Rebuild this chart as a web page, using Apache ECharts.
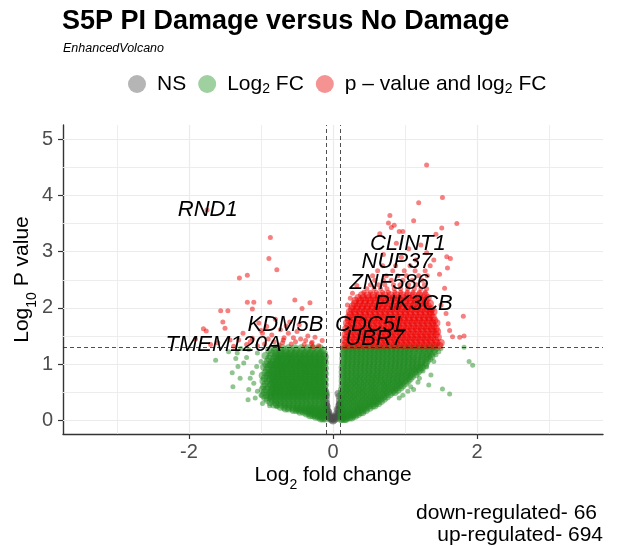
<!DOCTYPE html>
<html>
<head>
<meta charset="utf-8">
<script src="https://cdn.jsdelivr.net/npm/echarts@6/dist/echarts.min.js"></script>
<style>
  html, body { margin: 0; padding: 0; background: #fff; }
  #main { width: 618px; height: 546px; }
</style>
</head>
<body>
<div id="main"></div>
<script>
// ---- data ----
// points are [log2 fc, -log10 p]; rows are [-log10 p, [log2 fc, ...]]
var nsPoints = [
  [0,-0.01],[-0.02,0.01],[0.02,0.01],[-0.04,0.03],[0.04,0.03],[-0.01,0.04],[0.01,0.05],
  [-0.06,0.06],[0.06,0.06],[-0.03,0.07],[0.03,0.08],[-0.08,0.09],[0.08,0.09],[-0.05,0.11],
  [0.05,0.12],[-0.09,0.14],[0.09,0.14],[-0.07,0.17],[0.07,0.18],[-0.095,0.22],[0.095,0.22],
  [-0.08,0.25],[0.08,0.26],[-0.09,0.31],[0.09,0.30],[-0.095,0.37],[0.09,0.36],[-0.09,0.44],
  [0.085,0.43],[-0.095,0.49],[0.07,0.48],[-0.06,0.15],[0.06,0.20],[-0.02,0.03],[0.02,0.04],
  [-0.07,0.10],[0.07,0.11],[-0.085,0.20],[0.085,0.19],[-0.09,0.27],[0.09,0.28],[-0.04,0.06],[0.04,0.07]
];

var greenUpRows = [
  [0.02,[0.11,0.13,0.16,0.18]],
  [0.05,[0.12,0.15,0.19,0.23,0.26]],
  [0.08,[0.11,0.14,0.18,0.22,0.27,0.31]],
  [0.11,[0.12,0.17,0.21,0.26,0.30,0.35]],
  [0.14,[0.11,0.15,0.20,0.25,0.29,0.34,0.38,0.41]],
  [0.18,[0.13,0.18,0.23,0.28,0.33,0.37,0.42,0.46]],
  [0.22,[0.11,0.16,0.21,0.27,0.32,0.36,0.41,0.46,0.51]],
  [0.26,[0.13,0.19,0.24,0.30,0.35,0.40,0.45,0.50,0.55,0.58]],
  [0.30,[0.11,0.16,0.22,0.27,0.33,0.38,0.44,0.49,0.54,0.59,0.63]],
  [0.34,[0.14,0.19,0.25,0.30,0.36,0.41,0.47,0.52,0.57,0.62,0.67]],
  [0.38,[0.12,0.17,0.23,0.28,0.34,0.40,0.45,0.51,0.56,0.61,0.66,0.71]],
  [0.42,[0.14,0.20,0.26,0.31,0.37,0.43,0.48,0.54,0.59,0.64,0.70,0.75]],
  [0.46,[0.12,0.17,0.23,0.29,0.34,0.40,0.46,0.51,0.57,0.62,0.68,0.73,0.79]],
  [0.50,[0.14,0.20,0.25,0.31,0.37,0.42,0.48,0.54,0.59,0.65,0.71,0.76,0.82,0.86]],
  [0.54,[0.12,0.18,0.23,0.29,0.35,0.40,0.46,0.52,0.57,0.63,0.69,0.74,0.80,0.85,0.90]],
  [0.58,[0.15,0.20,0.26,0.32,0.38,0.43,0.49,0.55,0.60,0.66,0.72,0.77,0.83,0.88,0.94]],
  [0.62,[0.13,0.18,0.24,0.30,0.35,0.41,0.47,0.53,0.58,0.64,0.70,0.75,0.81,0.87,0.92,0.97]],
  [0.66,[0.15,0.21,0.27,0.32,0.38,0.44,0.50,0.55,0.61,0.67,0.73,0.78,0.84,0.90,0.95,1.01]],
  [0.70,[0.13,0.19,0.24,0.30,0.36,0.42,0.47,0.53,0.59,0.65,0.70,0.76,0.82,0.88,0.93,0.99,1.04]],
  [0.74,[0.15,0.21,0.27,0.33,0.38,0.44,0.50,0.56,0.61,0.67,0.73,0.79,0.84,0.90,0.96,1.02,1.07]],
  [0.78,[0.13,0.19,0.25,0.31,0.36,0.42,0.48,0.54,0.60,0.65,0.71,0.77,0.83,0.89,0.94,1.00,1.06,1.10]],
  [0.82,[0.15,0.21,0.27,0.33,0.39,0.45,0.51,0.56,0.62,0.68,0.74,0.80,0.86,0.92,0.97,1.03,1.09,1.15]],
  [0.86,[0.13,0.19,0.25,0.31,0.37,0.43,0.49,0.55,0.61,0.66,0.72,0.78,0.84,0.90,0.96,1.02,1.07,1.13,1.18]],
  [0.90,[0.15,0.21,0.27,0.33,0.39,0.45,0.51,0.57,0.63,0.69,0.75,0.81,0.87,0.93,0.99,1.05,1.11,1.16,1.21]],
  [0.94,[0.13,0.19,0.25,0.31,0.37,0.43,0.49,0.55,0.61,0.67,0.73,0.79,0.85,0.91,0.97,1.03,1.09,1.14,1.20,1.24]],
  [0.98,[0.15,0.21,0.27,0.33,0.39,0.45,0.51,0.57,0.63,0.69,0.75,0.81,0.87,0.93,0.99,1.05,1.11,1.17,1.23,1.28]],
  [1.02,[0.14,0.20,0.26,0.32,0.38,0.44,0.50,0.56,0.62,0.68,0.74,0.80,0.86,0.92,0.98,1.04,1.10,1.16,1.22,1.29]],
  [1.06,[0.16,0.22,0.28,0.34,0.40,0.46,0.52,0.58,0.64,0.70,0.76,0.82,0.88,0.94,1.00,1.06,1.12,1.18,1.24,1.31]],
  [1.10,[0.14,0.20,0.26,0.32,0.38,0.44,0.50,0.56,0.62,0.68,0.74,0.80,0.86,0.92,0.98,1.04,1.10,1.16,1.23,1.29,1.34]],
  [1.14,[0.16,0.22,0.28,0.34,0.40,0.46,0.52,0.58,0.64,0.70,0.76,0.82,0.88,0.94,1.00,1.06,1.12,1.19,1.25,1.32,1.37]],
  [1.18,[0.14,0.20,0.26,0.32,0.38,0.44,0.50,0.56,0.62,0.68,0.74,0.80,0.86,0.92,0.98,1.04,1.10,1.17,1.24,1.30,1.36]],
  [1.22,[0.16,0.22,0.28,0.34,0.40,0.46,0.52,0.58,0.64,0.70,0.76,0.82,0.88,0.94,1.00,1.06,1.13,1.20,1.27,1.34,1.40]],
  [1.26,[0.15,0.21,0.27,0.33,0.39,0.45,0.51,0.57,0.63,0.69,0.75,0.81,0.87,0.93,0.99,1.05,1.12,1.19,1.26,1.33,1.41]],
  [1.29,[0.17,0.24,0.31,0.38,0.45,0.52,0.59,0.66,0.73,0.80,0.87,0.94,1.01,1.08,1.15,1.22,1.29,1.36,1.43]]
];
var greenUpExtra = [
  [1.52,0.56],[1.62,0.47],[1.82,1.30],[1.89,1.05],[1.94,0.98],[1.20,0.75],[1.33,0.63],
  [1.43,1.17],[1.36,0.81],[1.08,0.60],[1.04,0.52],[1.25,0.88],[1.30,0.95],[1.40,1.05],
  [1.47,1.22],[1.18,0.68],[0.97,0.45],[0.92,0.40],[1.12,0.55],[1.50,1.28]
];

var greenDownRows = [
  [0.03,[-0.11,-0.14,-0.17]],
  [0.06,[-0.12,-0.16,-0.20,-0.24]],
  [0.09,[-0.11,-0.15,-0.19,-0.24,-0.28,-0.32]],
  [0.12,[-0.13,-0.18,-0.22,-0.27,-0.32,-0.37]],
  [0.15,[-0.11,-0.16,-0.21,-0.26,-0.31,-0.36,-0.41,-0.46]],
  [0.18,[-0.13,-0.18,-0.24,-0.29,-0.35,-0.40,-0.46,-0.51,-0.55]],
  [0.21,[-0.11,-0.16,-0.22,-0.28,-0.33,-0.39,-0.45,-0.50,-0.56,-0.62,-0.66]],
  [0.24,[-0.14,-0.20,-0.26,-0.32,-0.38,-0.44,-0.50,-0.56,-0.62,-0.68,-0.73]],
  [0.28,[-0.12,-0.18,-0.24,-0.30,-0.36,-0.42,-0.48,-0.54,-0.60,-0.66,-0.72,-0.78,-0.82]],
  [0.32,[-0.14,-0.20,-0.26,-0.32,-0.38,-0.44,-0.50,-0.56,-0.62,-0.68,-0.74,-0.80,-0.87]],
  [0.36,[-0.12,-0.18,-0.24,-0.30,-0.36,-0.42,-0.48,-0.54,-0.60,-0.66,-0.72,-0.78,-0.84,-0.91]],
  [0.40,[-0.14,-0.20,-0.26,-0.33,-0.39,-0.45,-0.51,-0.57,-0.63,-0.69,-0.75,-0.81,-0.87,-0.94]],
  [0.43,[-0.12,-0.18,-0.24,-0.30,-0.37,-0.43,-0.49,-0.55,-0.61,-0.67,-0.73,-0.80,-0.86]],
  [0.45,[-0.11,-0.17,-0.23,-0.29,-0.36,-0.42,-0.48,-0.54,-0.60,-0.66,-0.72,-0.79,-0.85,-0.92,-0.97]],
  [0.48,[-0.13,-0.19,-0.25,-0.31,-0.38,-0.44,-0.50,-0.56,-0.62,-0.69,-0.75,-0.81,-0.87]],
  [0.50,[-0.14,-0.20,-0.26,-0.32,-0.39,-0.45,-0.51,-0.57,-0.63,-0.70,-0.76,-0.82,-0.88,-0.95]],
  [0.53,[-0.11,-0.17,-0.23,-0.29,-0.35,-0.42,-0.48,-0.54,-0.60,-0.66,-0.73,-0.79,-0.85]],
  [0.55,[-0.12,-0.18,-0.24,-0.30,-0.36,-0.43,-0.49,-0.55,-0.61,-0.67,-0.74,-0.80,-0.86,-0.93,-0.98]],
  [0.58,[-0.15,-0.21,-0.28,-0.34,-0.40,-0.47,-0.53,-0.59,-0.66,-0.72,-0.78,-0.84]],
  [0.60,[-0.14,-0.21,-0.27,-0.33,-0.39,-0.46,-0.52,-0.58,-0.64,-0.71,-0.77,-0.83,-0.90,-0.96]],
  [0.63,[-0.11,-0.17,-0.23,-0.30,-0.36,-0.42,-0.49,-0.55,-0.61,-0.68,-0.74,-0.80,-0.86]],
  [0.65,[-0.12,-0.18,-0.25,-0.31,-0.37,-0.43,-0.50,-0.56,-0.62,-0.68,-0.75,-0.81,-0.87,-0.94]],
  [0.68,[-0.14,-0.20,-0.26,-0.33,-0.39,-0.45,-0.52,-0.58,-0.64,-0.71,-0.77,-0.83]],
  [0.70,[-0.15,-0.21,-0.27,-0.34,-0.40,-0.46,-0.53,-0.59,-0.65,-0.72,-0.78,-0.84,-0.91,-0.97]],
  [0.73,[-0.11,-0.17,-0.24,-0.30,-0.36,-0.43,-0.49,-0.55,-0.62,-0.68,-0.74,-0.81,-0.87]],
  [0.75,[-0.12,-0.19,-0.25,-0.31,-0.38,-0.44,-0.50,-0.57,-0.63,-0.69,-0.76,-0.82,-0.88,-0.95]],
  [0.78,[-0.14,-0.21,-0.27,-0.33,-0.40,-0.46,-0.52,-0.59,-0.65,-0.71,-0.78,-0.84]],
  [0.80,[-0.15,-0.21,-0.28,-0.34,-0.40,-0.47,-0.53,-0.59,-0.66,-0.72,-0.78,-0.85,-0.91,-0.98]],
  [0.83,[-0.11,-0.18,-0.24,-0.30,-0.37,-0.43,-0.50,-0.56,-0.62,-0.69,-0.75,-0.81,-0.88]],
  [0.85,[-0.12,-0.19,-0.25,-0.32,-0.38,-0.44,-0.51,-0.57,-0.63,-0.70,-0.76,-0.83,-0.89,-0.94]],
  [0.88,[-0.13,-0.20,-0.26,-0.33,-0.39,-0.46,-0.52,-0.58,-0.65,-0.71,-0.77,-0.84]],
  [0.90,[-0.15,-0.22,-0.28,-0.35,-0.41,-0.47,-0.54,-0.60,-0.67,-0.73,-0.79,-0.86,-0.92]],
  [0.93,[-0.11,-0.17,-0.24,-0.30,-0.37,-0.43,-0.50,-0.56,-0.63,-0.69,-0.75,-0.82]],
  [0.95,[-0.13,-0.19,-0.26,-0.32,-0.39,-0.45,-0.52,-0.58,-0.65,-0.71,-0.77,-0.84,-0.90,-0.96]],
  [0.98,[-0.14,-0.21,-0.27,-0.34,-0.40,-0.47,-0.53,-0.60,-0.66,-0.73,-0.79,-0.86]],
  [1.00,[-0.16,-0.22,-0.29,-0.35,-0.42,-0.48,-0.55,-0.61,-0.68,-0.74,-0.81,-0.87,-0.93]],
  [1.03,[-0.11,-0.18,-0.24,-0.31,-0.37,-0.44,-0.50,-0.57,-0.63,-0.70,-0.76,-0.83]],
  [1.05,[-0.13,-0.20,-0.26,-0.33,-0.39,-0.46,-0.52,-0.59,-0.65,-0.72,-0.78,-0.85,-0.91]],
  [1.08,[-0.12,-0.19,-0.25,-0.32,-0.39,-0.45,-0.52,-0.58,-0.65,-0.72,-0.78]],
  [1.10,[-0.16,-0.23,-0.30,-0.36,-0.43,-0.49,-0.56,-0.62,-0.69,-0.76,-0.82,-0.89]],
  [1.13,[-0.11,-0.18,-0.25,-0.31,-0.38,-0.45,-0.51,-0.58,-0.64,-0.71,-0.78]],
  [1.15,[-0.13,-0.20,-0.27,-0.34,-0.41,-0.47,-0.54,-0.61,-0.67,-0.74,-0.80,-0.87,-0.94]],
  [1.18,[-0.12,-0.19,-0.26,-0.33,-0.40,-0.47,-0.54,-0.61,-0.68,-0.75]],
  [1.20,[-0.17,-0.24,-0.31,-0.38,-0.45,-0.52,-0.58,-0.65,-0.72,-0.79,-0.85]],
  [1.25,[-0.14,-0.21,-0.29,-0.36,-0.43,-0.51,-0.58,-0.66,-0.73,-0.81,-0.89]],
  [1.29,[-0.18,-0.27,-0.35,-0.44,-0.53,-0.62,-0.71,-0.80]]
];
var greenDownExtra = [
  [-1.63,1.07],[-1.40,0.85],[-1.39,0.60],[-1.18,0.37],[-1.29,0.75],[-1.10,0.66],[-1.17,0.55],
  [-1.05,0.52],[-1.32,0.96],[-1.24,1.02],[-1.06,0.96],[-1.33,1.20],[-1.17,1.26],[-1.05,1.20],
  [-0.88,0.26],[-0.78,0.25],[-1.00,0.45],[-1.12,0.85],[-1.20,1.12],[-1.28,1.28],[-1.00,1.05],
  [-1.15,0.75],[-0.98,0.30],[-1.08,0.40],[-1.45,1.22],[-1.35,1.10]
];

var redUpRows = [
  [1.33,[0.15,0.22,0.29,0.36,0.43,0.50,0.57,0.64,0.71,0.78,0.85,0.92,0.99,1.06,1.13,1.20,1.27,1.34,1.41,1.48]],
  [1.38,[0.18,0.25,0.32,0.39,0.46,0.53,0.60,0.67,0.74,0.81,0.88,0.95,1.02,1.09,1.16,1.23,1.30,1.37,1.44,1.50]],
  [1.43,[0.16,0.23,0.30,0.37,0.44,0.51,0.58,0.65,0.72,0.79,0.86,0.93,1.00,1.07,1.14,1.21,1.28,1.35,1.42]],
  [1.48,[0.19,0.26,0.33,0.40,0.47,0.54,0.61,0.68,0.75,0.82,0.89,0.96,1.03,1.10,1.17,1.24,1.31,1.38,1.46]],
  [1.53,[0.17,0.24,0.31,0.38,0.45,0.52,0.59,0.66,0.73,0.80,0.87,0.94,1.01,1.08,1.15,1.22,1.29,1.36,1.43]],
  [1.58,[0.20,0.27,0.34,0.41,0.48,0.55,0.62,0.69,0.76,0.83,0.90,0.97,1.04,1.11,1.18,1.25,1.32,1.39,1.45]],
  [1.63,[0.18,0.25,0.32,0.39,0.46,0.53,0.60,0.67,0.74,0.81,0.88,0.95,1.02,1.09,1.16,1.23,1.30,1.37,1.43]],
  [1.68,[0.21,0.28,0.35,0.42,0.49,0.56,0.63,0.70,0.77,0.84,0.91,0.98,1.05,1.12,1.19,1.26,1.33,1.40]],
  [1.73,[0.19,0.26,0.33,0.40,0.47,0.54,0.61,0.68,0.75,0.82,0.89,0.96,1.03,1.10,1.17,1.24,1.31,1.38,1.44]],
  [1.78,[0.22,0.29,0.36,0.43,0.50,0.57,0.64,0.71,0.78,0.85,0.92,0.99,1.06,1.13,1.20,1.27,1.34,1.41]],
  [1.83,[0.21,0.28,0.35,0.42,0.49,0.56,0.63,0.70,0.77,0.84,0.91,0.98,1.05,1.12,1.19,1.26,1.33,1.39]],
  [1.88,[0.24,0.31,0.38,0.45,0.52,0.59,0.66,0.73,0.80,0.87,0.94,1.01,1.08,1.15,1.22,1.29,1.36]],
  [1.93,[0.23,0.30,0.37,0.44,0.51,0.58,0.65,0.72,0.79,0.86,0.93,1.00,1.07,1.14,1.21,1.28,1.35,1.40]],
  [1.98,[0.26,0.33,0.40,0.47,0.54,0.61,0.68,0.75,0.82,0.89,0.96,1.03,1.10,1.17,1.24,1.31,1.37]],
  [2.03,[0.27,0.34,0.41,0.48,0.55,0.62,0.69,0.76,0.83,0.90,0.97,1.04,1.11,1.18,1.25,1.32]],
  [2.08,[0.30,0.37,0.44,0.51,0.58,0.65,0.72,0.79,0.86,0.93,1.00,1.07,1.14,1.21,1.28,1.35]],
  [2.13,[0.31,0.38,0.45,0.52,0.59,0.66,0.73,0.80,0.87,0.94,1.01,1.08,1.15,1.22,1.29]],
  [2.18,[0.35,0.42,0.49,0.56,0.63,0.70,0.77,0.84,0.91,0.98,1.05,1.12,1.19,1.26,1.32]],
  [2.23,[0.40,0.48,0.56,0.64,0.72,0.80,0.88,0.96,1.04,1.12,1.20,1.28]]
];
var redUpSparseRows = [
  [2.28,[0.43,0.52,0.60,0.69,0.77,0.86,0.94,1.03,1.11,1.20,1.28]],
  [2.34,[0.47,0.57,0.66,0.75,0.85,0.94,1.04,1.13,1.22,1.30]],
  [2.41,[0.52,0.63,0.72,0.84,0.93,1.05,1.16,1.27]],
  [2.49,[0.58,0.70,0.81,0.97,1.10,1.24]],
  [2.57,[0.55,0.74,0.90,1.02,1.19,1.31]],
  [2.66,[0.62,0.83,0.99,1.14,1.28]],
  [2.75,[0.69,0.87,1.07,1.35]]
];
var redUpExtra = [
  [1.30,4.54],[1.52,3.96],[1.19,3.87],[1.72,3.50],[1.51,3.42],[1.12,3.55],[0.79,3.64],
  [0.77,3.51],[0.81,3.43],[0.85,3.47],[0.92,3.36],[0.97,3.36],[0.65,3.32],[1.43,3.31],
  [1.58,2.91],[1.63,2.88],[1.59,2.71],[1.81,1.85],[1.62,1.60],[1.76,1.48],[1.82,1.50],
  [1.66,1.49],[1.05,3.05],[0.88,3.15],[1.22,3.12],[1.30,2.98],[0.70,2.95],[1.48,2.60],
  [1.55,2.35],[1.50,2.05],[1.57,1.90],[1.60,1.72],[0.24,2.17],[0.27,2.26],[0.20,2.05],
  [0.33,2.40],[1.40,2.85],[0.95,2.90],[1.15,2.85]
];
var redDown = [
  [-1.75,3.74],[-0.87,3.25],[-0.89,2.88],[-0.78,2.68],[-1.30,2.53],[-1.19,2.58],[-1.19,2.10],
  [-1.10,2.10],[-1.12,1.98],[-0.88,2.10],[-0.53,2.14],[-0.32,2.09],[-0.43,1.99],[-1.56,1.95],
  [-1.46,1.95],[-1.53,1.75],[-1.50,1.64],[-1.80,1.63],[-1.76,1.59],[-1.91,1.45],[-0.28,1.31],
  [-0.30,1.37],[-0.55,1.47],[-0.68,1.47],[-0.45,1.45],[-1.03,1.73],[-0.92,1.67],[-0.73,1.61],
  [-0.82,1.40],[-1.12,1.46],[-1.31,1.43],[-1.43,1.43],[-0.69,1.43],[-0.29,1.39],[-0.98,1.55],
  [-0.85,1.52],[-0.62,1.55],[-0.40,1.35],[-0.58,1.36],[-0.75,1.34],[-0.95,1.36],[-1.05,1.33],
  [-1.20,1.35],[-0.50,1.58],[-0.35,1.50],[-0.90,1.45],[-1.25,1.55],[-0.65,1.68],[-0.20,1.33],
  [-0.15,1.42],[-1.38,1.32],[-0.80,1.80],[-0.60,1.75],[-1.60,1.38],[-1.70,1.35],[-0.47,1.70],
  [-1.00,1.60],[-0.52,1.40],[-0.38,1.42],[-0.25,1.48],[-0.70,1.38],[-1.15,1.40]
];

// gene label centres [name, log2 fc, -log10 p]
var geneLabels = [
  ['RND1',-1.74,3.74],['TMEM120A',-1.52,1.35],['KDM5B',-0.66,1.70],['CDC5L',0.53,1.70],
  ['UBR7',0.58,1.45],['PIK3CB',1.12,2.08],['ZNF586',0.78,2.44],['NUP37',0.89,2.81],
  ['CLINT1',1.04,3.13]
];

var xTicks = [-2, 0, 2];
var yTicks = [0, 1, 2, 3, 4, 5];
var xMinor = [-3, -1, 1, 3];
var yMinor = [0.5, 1.5, 2.5, 3.5, 4.5];
var fcCut = 0.1;
var pCut = 1.301;
var downCount = 66;
var upCount = 694;

function rowsToPoints(rows) {
  var out = [];
  rows.forEach(function (r) {
    r[1].forEach(function (x) { out.push([x, r[0]]); });
  });
  return out;
}

var FONT = '"Liberation Sans", Arial, Helvetica, sans-serif';
var SER_NS = 'NS', SER_FC = 'Log2 FC', SER_P = 'p \u2013 value and log2 FC';
var legendText = {};
legendText[SER_NS] = 'NS';
legendText[SER_FC] = 'Log{sub|2} FC';
legendText[SER_P] = 'p \u2013 value and log{sub|2} FC';

var COL_NS = 'rgba(77,77,77,0.5)';
var COL_FC = 'rgba(34,139,34,0.5)';
var COL_P = 'rgba(238,0,0,0.5)';

var gridLines = [];
xTicks.forEach(function (v) { gridLines.push({ xAxis: v, lineStyle: { width: 1.2 } }); });
xMinor.forEach(function (v) { gridLines.push({ xAxis: v, lineStyle: { width: 0.9 } }); });
yTicks.forEach(function (v) { gridLines.push({ yAxis: v, lineStyle: { width: 1.2 } }); });
yMinor.forEach(function (v) { gridLines.push({ yAxis: v, lineStyle: { width: 0.9 } }); });

var chart = echarts.init(document.getElementById('main'), null, { renderer: 'canvas' });

function pointSeries(name, data, color, size) {
  return {
    name: name, type: 'scatter', data: data, symbolSize: size,
    itemStyle: { color: color, opacity: 1 }, silent: true, z: 3,
    progressive: 0, large: false
  };
}

var subRich = { sub: { fontSize: 14, verticalAlign: 'bottom', lineHeight: 14, padding: [0, 0, -6, 0] } };

chart.setOption({
  animation: false,
  backgroundColor: '#fff',
  textStyle: { fontFamily: FONT },
  title: [
    { text: 'S5P PI Damage versus No Damage', left: 62, top: 8, padding: 0,
      textStyle: { fontSize: 27, fontWeight: 'bold', color: '#000', fontFamily: FONT } },
    { text: 'EnhancedVolcano', left: 63, top: 42, padding: 0,
      textStyle: { fontSize: 12.5, fontStyle: 'italic', fontWeight: 'normal', color: '#000', fontFamily: FONT } }
  ],
  legend: {
    left: 128, top: 72, padding: 0, icon: 'circle', itemWidth: 18, itemHeight: 18, itemGap: 12,
    selectedMode: false,
    data: [
      { name: SER_NS, itemStyle: { color: '#b5b5b5', opacity: 1 } },
      { name: SER_FC, itemStyle: { color: '#9fd09f', opacity: 1 } },
      { name: SER_P, itemStyle: { color: '#f59393', opacity: 1 } }
    ],
    formatter: function (n) { return legendText[n]; },
    textStyle: {
      fontSize: 21, color: '#000', fontFamily: FONT, lineHeight: 24, padding: [0, 0, 0, 6],
      rich: { sub: { fontSize: 14, lineHeight: 14, verticalAlign: 'bottom', color: '#000', fontFamily: FONT } }
    }
  },
  grid: { left: 63, right: 15, top: 125, bottom: 112 },
  xAxis: {
    type: 'value', min: -3.75, max: 3.75,
    name: 'Log{sub|2} fold change', nameLocation: 'middle', nameGap: 31, nameMoveOverlap: false,
    nameTextStyle: { fontSize: 21, color: '#000', fontFamily: FONT, rich: subRich },
    axisLine: { onZero: false, lineStyle: { color: '#333', width: 1.4 } },
    axisTick: { show: true, length: 5, customValues: xTicks, lineStyle: { color: '#333', width: 1.2 } },
    axisLabel: { customValues: xTicks, fontSize: 20, color: '#4d4d4d', margin: 8, fontFamily: FONT },
    splitLine: { show: false }
  },
  yAxis: {
    type: 'value', min: -0.24, max: 5.25,
    name: 'Log{sub|10} P value', nameLocation: 'middle', nameGap: 30, nameRotate: 90, nameMoveOverlap: false,
    nameTextStyle: { fontSize: 21, color: '#000', fontFamily: FONT, rich: subRich },
    axisLine: { onZero: false, lineStyle: { color: '#333', width: 1.4 } },
    axisTick: { show: true, length: 5, customValues: yTicks, lineStyle: { color: '#333', width: 1.2 } },
    axisLabel: { customValues: yTicks, fontSize: 20, color: '#4d4d4d', margin: 10, fontFamily: FONT },
    splitLine: { show: false }
  },
  series: [
    {
      type: 'scatter', data: [], silent: true, z: 1,
      markLine: {
        silent: true, symbol: ['none', 'none'], label: { show: false }, z: 1,
        lineStyle: { color: '#ebebeb', type: 'solid' },
        data: gridLines
      }
    },
    pointSeries(SER_NS, nsPoints, COL_NS, 7),
    pointSeries(SER_FC, rowsToPoints(greenDownRows).concat(rowsToPoints(greenUpRows)), COL_FC, 7.5),
    pointSeries(SER_FC, greenDownExtra.concat(greenUpExtra), COL_FC, 5),
    pointSeries(SER_P, rowsToPoints(redUpRows), COL_P, 7.5),
    pointSeries(SER_P, redDown.concat(rowsToPoints(redUpSparseRows), redUpExtra), COL_P, 5),
    {
      type: 'scatter', data: [], silent: true, z: 4,
      markLine: {
        silent: true, symbol: ['none', 'none'], label: { show: false }, z: 4,
        lineStyle: { color: '#222', type: [4, 3], width: 0.8 },
        data: [{ xAxis: -fcCut }, { xAxis: fcCut }, { yAxis: pCut }]
      }
    },
    {
      type: 'scatter', silent: true, z: 5, symbolSize: 0, progressive: 0,
      itemStyle: { opacity: 1 },
      data: geneLabels.map(function (g) { return { name: g[0], value: [g[1], g[2]] }; }),
      label: {
        show: true, position: 'inside', formatter: '{b}', opacity: 1,
        fontSize: 22, fontStyle: 'italic', color: '#000', fontFamily: FONT,
        textBorderWidth: 0
      }
    }
  ],
  graphic: [
    {
      type: 'text', x: 597, y: 513,
      style: {
        text: 'down-regulated- ' + downCount, align: 'right', verticalAlign: 'middle',
        fontSize: 21, fill: '#000', fontFamily: FONT
      }
    },
    {
      type: 'text', x: 603, y: 535,
      style: {
        text: 'up-regulated- ' + upCount, align: 'right', verticalAlign: 'middle',
        fontSize: 21, fill: '#000', fontFamily: FONT
      }
    }
  ]
});
</script>
</body>
</html>
